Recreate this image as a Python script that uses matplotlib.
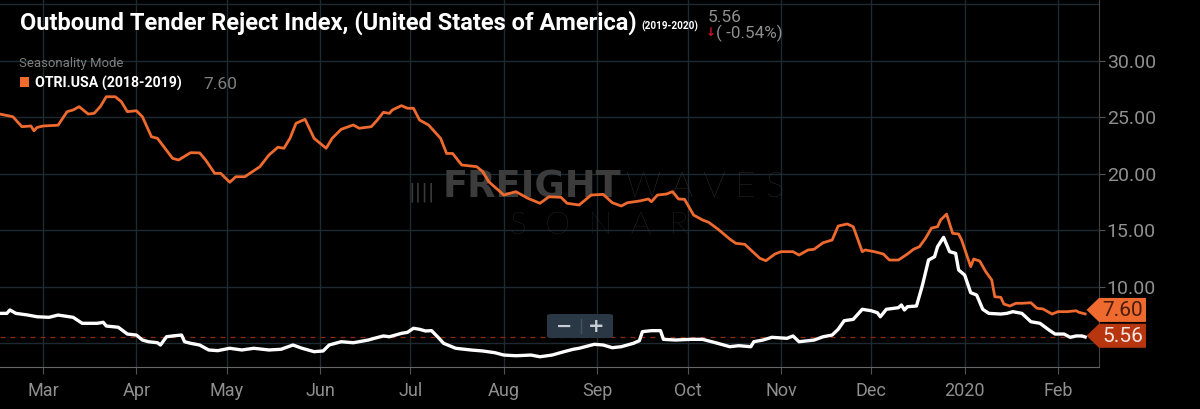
import matplotlib
matplotlib.use("Agg")
import matplotlib.pyplot as plt
import matplotlib.transforms as mtransforms
from matplotlib.patches import Polygon, Rectangle, FancyBboxPatch
import numpy as np
import pandas as pd

# ---------------- data (days since 2019-02-15) ----------------
start = pd.Timestamp("2019-02-15")

otri_prev_days = [0, 4, 7, 10, 11, 12, 14, 19, 22, 24, 26, 29, 31, 33, 35, 38, 40, 42, 45, 47,
                  50, 52, 57, 59, 63, 66, 68, 71, 73, 76, 78, 81, 86, 89, 92, 94, 96, 98, 101, 104,
                  108, 110, 113, 117, 119, 123, 125, 127, 129, 130, 133, 135, 137, 139, 142, 146, 148, 150, 153, 158,
                  160, 162, 167, 171, 175, 179, 182, 186, 188, 192, 196, 200, 203, 206, 208, 212, 215, 216, 218, 221,
                  223, 225, 227, 230, 233, 235, 238, 240, 242, 244, 247, 249, 252, 254, 257, 259, 263, 265, 268, 270,
                  273, 276, 278, 281, 283, 286, 287, 290, 293, 295, 298, 301, 303, 305, 307, 309, 311, 312, 314, 316,
                  318, 319, 322, 323, 325, 327, 329, 330, 332, 333, 335, 337, 339, 342, 344, 346, 349, 351, 354, 357,
                  358, 360]
otri_prev_vals = [25.27, 25.05, 24.17, 24.23, 23.80, 24.10, 24.23, 24.30, 25.50, 25.65, 25.94, 25.29, 25.35, 25.94, 26.82, 26.82, 26.38, 25.50, 25.58, 25.05,
                  23.28, 23.14, 21.37, 21.22, 21.87, 21.85, 21.22, 20.04, 20.04, 19.25, 19.74, 19.74, 20.63, 21.66, 22.35, 22.26, 23.14, 24.47, 24.82, 23.14,
                  22.26, 23.14, 23.94, 24.32, 24.03, 24.17, 24.76, 25.44, 25.35, 25.65, 26.03, 25.80, 25.80, 24.76, 24.32, 23.14, 21.80, 21.80, 20.78, 20.63,
                  20.19, 19.30, 18.12, 18.42, 17.83, 17.39, 17.97, 17.92, 17.39, 17.24, 18.12, 18.18, 17.44, 17.15, 17.44, 17.59, 17.77, 17.53, 18.12, 18.21,
                  18.42, 17.77, 17.74, 16.35, 15.91, 15.71, 15.12, 14.67, 14.23, 13.85, 13.76, 13.26, 12.52, 12.31, 12.90, 13.11, 13.11, 12.81, 13.26, 13.32,
                  13.90, 14.14, 15.38, 15.56, 15.32, 13.11, 13.26, 13.11, 12.90, 12.37, 12.37, 12.90, 13.32, 13.55, 14.29, 15.20, 15.32, 15.91, 16.43, 14.73,
                  14.67, 14.14, 11.78, 12.46, 12.28, 11.34, 10.60, 9.12, 9.07, 8.48, 8.30, 8.54, 8.54, 8.59, 8.10, 8.04, 7.59, 7.80, 7.80, 7.88,
                  7.74, 7.60]

otri_cur_days = [0, 2, 3, 5, 9, 12, 16, 19, 24, 27, 32, 34, 35, 39, 42, 45, 47, 49, 52, 53,
                 55, 57, 60, 61, 63, 66, 69, 72, 76, 80, 84, 89, 93, 97, 100, 104, 107, 109, 113, 117,
                 122, 124, 127, 129, 133, 135, 137, 139, 141, 143, 145, 147, 151, 156, 160, 164, 167, 171, 176, 179,
                 183, 187, 190, 192, 197, 200, 203, 206, 210, 212, 213, 216, 219, 220, 224, 229, 233, 238, 242, 245,
                 249, 250, 253, 256, 261, 263, 265, 270, 273, 276, 278, 280, 283, 284, 286, 289, 291, 292, 294, 298,
                 299, 300, 301, 304, 306, 308, 310, 311, 313, 315, 317, 318, 320, 322, 324, 326, 328, 332, 334, 336,
                 339, 342, 345, 348, 350, 353, 355, 357, 359, 360]
otri_cur_vals = [7.65, 7.65, 7.95, 7.65, 7.50, 7.35, 7.30, 7.50, 7.30, 6.77, 6.77, 6.86, 6.53, 6.42, 5.82, 5.73, 5.29, 5.14, 5.05, 4.85,
                 5.58, 5.65, 5.73, 5.14, 5.00, 4.85, 4.41, 4.35, 4.56, 4.41, 4.56, 4.41, 4.47, 4.85, 4.56, 4.26, 4.32, 4.85, 5.14, 5.05,
                 5.29, 5.44, 5.65, 5.58, 5.88, 5.97, 6.33, 6.24, 6.09, 6.12, 5.58, 5.00, 4.56, 4.41, 4.32, 4.17, 3.96, 3.90, 3.96, 3.81,
                 3.96, 4.26, 4.47, 4.56, 4.91, 4.85, 4.61, 4.70, 5.00, 5.23, 6.03, 6.12, 6.12, 5.35, 5.29, 5.35, 5.35, 5.00, 4.70, 4.79,
                 4.70, 5.14, 5.29, 5.53, 5.44, 5.65, 5.14, 5.29, 5.58, 5.73, 6.24, 7.00, 7.12, 7.42, 8.01, 7.88, 7.71, 7.35, 8.01, 8.15,
                 8.39, 7.95, 8.24, 8.30, 10.16, 12.37, 12.66, 13.55, 14.38, 13.11, 12.96, 11.49, 11.04, 9.48, 9.27, 8.01, 7.65, 7.59, 7.65, 7.80,
                 7.65, 6.91, 6.77, 6.18, 5.82, 5.82, 5.53, 5.65, 5.65, 5.56]

month_ticks = ["2019-03-01", "2019-04-01", "2019-05-01", "2019-06-01", "2019-07-01", "2019-08-01",
               "2019-09-01", "2019-10-01", "2019-11-01", "2019-12-01", "2020-01-01", "2020-02-01"]
month_labels = ["Mar", "Apr", "May", "Jun", "Jul", "Aug", "Sep", "Oct", "Nov", "Dec", "2020", "Feb"]
y_ticks = [10, 15, 20, 25, 30]

cur_last = 5.56
prev_last = 7.60
change_txt = "( -0.54%)"

# ---------------- figure ----------------
BG = "#000000"
ORANGE = "#EE6A2E"
REDTAG = "#B8360F"
GRID = "#1e2932"
GREY = "#8f8f8f"
FONT = ["Roboto", "DejaVu Sans"]
W, H = 1200, 409

fig = plt.figure(figsize=(12, 4.09), dpi=100, facecolor=BG)
ax = fig.add_axes([0.0, 1 - 366.7 / H, 1099 / W, 366.7 / H])
ax.set_facecolor(BG)
renderer = fig.canvas.get_renderer()


def fit(t, width_px):
    """scale a text's font size so it spans the given pixel width"""
    bb = t.get_window_extent(renderer)
    t.set_fontsize(t.get_fontsize() * width_px / bb.width)
    return t


d_prev = start + pd.to_timedelta(otri_prev_days, unit="D")
d_cur = start + pd.to_timedelta(otri_cur_days, unit="D")

ax.plot(d_prev, otri_prev_vals, color=ORANGE, lw=2.0, zorder=4, solid_joinstyle="round")
ax.plot(d_cur, otri_cur_vals, color="white", lw=2.4, zorder=5, solid_joinstyle="round")
ax.axhline(cur_last, color="#8a2a10", lw=0.9, ls=(0, (4, 4)), zorder=3)

ax.set_xlim(start - pd.Timedelta(days=0.28), start + pd.Timedelta(days=364.6))
ax.set_ylim(2.93, 35.38)

ax.set_xticks(pd.to_datetime(month_ticks))
ax.set_xticklabels(month_labels)
ax.yaxis.tick_right()
ax.set_yticks(y_ticks)
ax.set_yticklabels([f"{v:.2f}" for v in y_ticks])
ax.set_yticks([5, 35], minor=True)
ax.grid(True, which="both", color=GRID, lw=1.0, zorder=1)
ax.tick_params(axis="x", colors="#555555", labelcolor=GREY, labelsize=13, length=5, pad=6,
               direction="out")
ax.tick_params(axis="y", which="major", colors="#555555", labelcolor=GREY, labelsize=14,
               length=4, pad=1.5)
ax.tick_params(axis="y", which="minor", length=0)
for lab in ax.get_xticklabels() + ax.get_yticklabels():
    lab.set_family(FONT)
for s in ["top", "left"]:
    ax.spines[s].set_visible(False)
ax.spines["bottom"].set_color("#666666")
ax.spines["right"].set_color("#444444")

# ---------------- watermark (behind the lines) ----------------
wm = dict(transform=fig.transFigure, va="baseline", zorder=2)
ax.text(408 / W, 1 - 197 / H, "||||", color="#3a3a3a", fontsize=14, family=["DejaVu Sans"],
        ha="left", **wm)
fit(ax.text(443 / W, 1 - 197 / H, "FREIGHT", color="#3c3c3c", fontsize=20, fontweight="heavy",
            family=["DejaVu Sans"], ha="left", **wm), 178)
fit(ax.text(626 / W, 1 - 197 / H, "W A V E S", color="#3a3a3a", fontsize=20,
            fontweight="light", family=["Lato", "DejaVu Sans"], ha="left", **wm), 158)
fit(ax.text(510 / W, 1 - 234 / H, "S  O  N  A  R", color="#333333", fontsize=20,
            fontweight="light", family=["Lato", "DejaVu Sans"], ha="left", **wm), 178)

# ---------------- value tags on the right ----------------
def tag(value, face, tcolor, dy):
    tr = fig.dpi_scale_trans + mtransforms.ScaledTranslation(1.0, value, ax.get_yaxis_transform())
    verts = [(-0.125, dy), (0.0, dy + 0.12), (0.47, dy + 0.12), (0.47, dy - 0.12), (0.0, dy - 0.12)]
    p = Polygon(verts, closed=True, transform=tr, facecolor=face, edgecolor="none",
                zorder=10, clip_on=False)
    fig.add_artist(p)
    fig.text(0.24, dy - 0.005, f"{value:.2f}", transform=tr, ha="center", va="center",
             color=tcolor, fontsize=15, family=FONT, zorder=11)

tag(prev_last, ORANGE, "#4a1d0c", 0.04)
tag(cur_last, REDTAG, "#f4e6e0", 0.012)

# ---------------- header texts ----------------
fit(fig.text(20 / W, 1 - 30 / H, "Outbound Tender Reject Index, (United States of America)",
             color="white", fontsize=17, fontweight="bold", family=FONT, ha="left",
             va="baseline"), 617)
fit(fig.text(641 / W, 1 - 30 / H, "(2019-2020)", color="white", fontsize=7,
             fontweight="bold", family=FONT, ha="left", va="baseline"), 57)
fig.text(708 / W, 1 - 22 / H, f"{cur_last:.2f}", color=GREY, fontsize=12.5,
         family=FONT, ha="left", va="baseline")
fig.text(706 / W, 1 - 32 / H, "\u2193", color="#d0102a", fontsize=8.5, fontweight="bold",
         family=["DejaVu Sans"], ha="left", va="center")
fit(fig.text(716 / W, 1 - 38 / H, change_txt, color=GREY, fontsize=12.5,
             family=FONT, ha="left", va="baseline"), 66)
fit(fig.text(19 / W, 1 - 67 / H, "Seasonality Mode", color="#7f7f7f", fontsize=10,
             family=FONT, ha="left", va="baseline"), 104)
fig.add_artist(Rectangle((20 / W, 1 - 87 / H), 9 / W, 10 / H,
                         transform=fig.transFigure, facecolor=ORANGE, edgecolor="none"))
fit(fig.text(35 / W, 1 - 88 / H, "OTRI.USA (2018-2019)", color="white", fontsize=10.5,
             fontweight="bold", family=FONT, ha="left", va="baseline"), 148)
fig.text(203 / W, 1 - 89 / H, f"{prev_last:.2f}", color="#7f7f7f", fontsize=12.5,
         family=FONT, ha="left", va="baseline")

# ---------------- zoom control ----------------
fig.add_artist(FancyBboxPatch((547 / W, 1 - 338 / H), 66 / W, 24 / H,
                              boxstyle="round,pad=0,rounding_size=0.004",
                              transform=fig.transFigure, facecolor="#2a3845", edgecolor="none",
                              zorder=12))
fig.text(564 / W, 1 - 326 / H, "\u2212", color="#c8ced4", fontsize=14, fontweight="bold",
         ha="center", va="center", zorder=13)
fig.text(596 / W, 1 - 326 / H, "+", color="#c8ced4", fontsize=14, fontweight="bold",
         ha="center", va="center", zorder=13)
fig.add_artist(plt.Line2D([581 / W, 581 / W], [1 - 333 / H, 1 - 319 / H],
                          transform=fig.transFigure, color="#44525f", lw=1, zorder=13))

fig.savefig("out.png", dpi=100, facecolor=BG)
